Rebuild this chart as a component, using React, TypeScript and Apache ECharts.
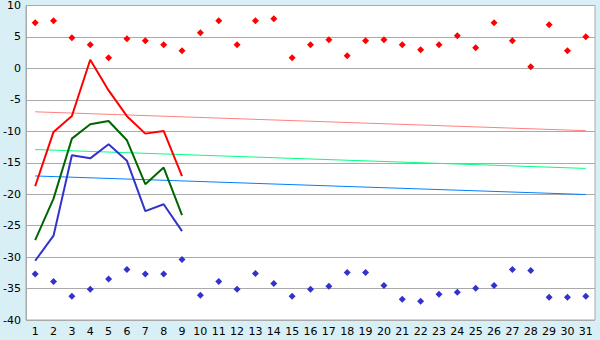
import React, { useEffect, useRef } from "react";
import * as echarts from "echarts";

const days = Array.from({ length: 31 }, (_, i) => String(i + 1));

const redPoints = [7.25, 7.57, 4.87, 3.76, 1.7, 4.71, 4.4, 3.76, 2.8, 5.66, 7.57, 3.76, 7.57, 7.89, 1.7, 3.76, 4.55, 2.0, 4.4, 4.55, 3.76, 2.96, 3.76, 5.18, 3.28, 7.25, 4.4, 0.26, 6.93, 2.8, 5.02];
const bluePoints = [-32.7, -33.86, -36.24, -35.1, -33.5, -31.96, -32.7, -32.7, -30.37, -36.08, -33.86, -35.1, -32.6, -34.18, -36.24, -35.1, -34.65, -32.43, -32.43, -34.5, -36.72, -37.03, -35.92, -35.6, -34.97, -34.5, -31.96, -32.12, -36.4, -36.4, -36.24];

const redLine = [-18.73, -10.1, -7.57, 1.38, -3.5, -7.6, -10.37, -9.95, -17.14];
const greenLine = [-27.3, -20.7, -11.16, -8.89, -8.36, -11.43, -18.4, -15.77, -23.33];
const blueLine = [-30.58, -26.6, -13.8, -14.3, -12.06, -14.7, -22.7, -21.59, -25.87];

const redTrend = [-6.9, -9.9];
const greenTrend = [-12.9, -15.9];
const blueTrend = [-17.1, -20.05];

function trendData(pair: number[]) {
  return days.map((_, i) => (i === 0 ? pair[0] : i === days.length - 1 ? pair[1] : null));
}

export default function App() {
  const ref = useRef<HTMLDivElement>(null);
  useEffect(() => {
    if (!ref.current) return;
    const chart = echarts.init(ref.current, undefined, { renderer: "svg" });
    const font = "DejaVu Sans";
    const lineSeries = (data: any[], color: string, width: number, z = 3) => ({
      type: "line",
      data,
      showSymbol: false,
      symbol: "none",
      connectNulls: true,
      lineStyle: { color, width },
      itemStyle: { color },
      z,
    });
    chart.setOption({
      animation: false,
      backgroundColor: "#d9eff6",
      grid: {
        left: 26,
        right: 5,
        top: 5,
        bottom: 20,
        show: true,
        backgroundColor: "#ffffff",
        borderColor: "#aaaaaa",
        borderWidth: 1,
      },
      xAxis: {
        type: "category",
        data: days,
        boundaryGap: true,
        axisLine: { lineStyle: { color: "#aaaaaa" } },
        axisTick: { alignWithLabel: true, length: 5, lineStyle: { color: "#aaaaaa" } },
        axisLabel: { color: "#000", fontFamily: font, fontSize: 11, margin: 6, interval: 0 },
      },
      yAxis: {
        type: "value",
        min: -40,
        max: 10,
        interval: 5,
        axisLine: { show: true, lineStyle: { color: "#aaaaaa" } },
        axisTick: { show: false },
        splitLine: { lineStyle: { color: "#aaaaaa" } },
        axisLabel: { color: "#000", fontFamily: font, fontSize: 11, margin: 5 },
      },
      series: [
        lineSeries(trendData(redTrend), "#ff8080", 1, 2),
        lineSeries(trendData(greenTrend), "#00ff80", 1, 2),
        lineSeries(trendData(blueTrend), "#0080ff", 1, 2),
        lineSeries(redLine, "#ff0000", 2),
        lineSeries(greenLine, "#006600", 2),
        lineSeries(blueLine, "#3333cc", 2),
        {
          type: "scatter",
          data: redPoints,
          symbol: "diamond",
          symbolSize: 7,
          itemStyle: { color: "#ff0000", opacity: 1 },
          z: 4,
        },
        {
          type: "scatter",
          data: bluePoints,
          symbol: "diamond",
          symbolSize: 7,
          itemStyle: { color: "#3333cc", opacity: 1 },
          z: 4,
        },
      ],
    });
    return () => chart.dispose();
  }, []);
  return (
    <div
      ref={ref}
      style={{ position: "fixed", left: 0, top: 0, width: 600, height: 340 }}
    />
  );
}
